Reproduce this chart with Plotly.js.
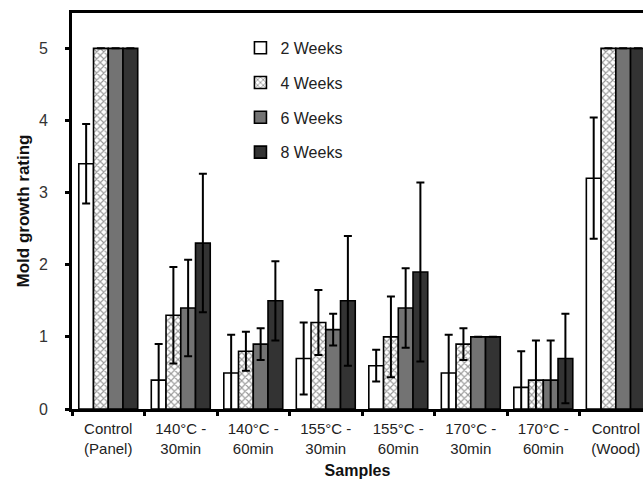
<!DOCTYPE html>
<html>
<head>
<meta charset="utf-8">
<script src="https://cdn.plot.ly/plotly-3.0.1.min.js"></script>
<style>
  html, body { margin: 0; padding: 0; background: #ffffff; }
  #chart { width: 643px; height: 484px; }
</style>
</head>
<body>
<div id="chart"></div>
<script>
const categories = ['Control<br>(Panel)', '140°C -<br>30min', '140°C -<br>60min', '155°C -<br>30min', '155°C -<br>60min', '170°C -<br>30min', '170°C -<br>60min', 'Control<br>(Wood)'];
const seriesNames = ['2 Weeks', '4 Weeks', '6 Weeks', '8 Weeks'];
const week2 = [3.4, 0.4, 0.5, 0.7, 0.6, 0.5, 0.3, 3.2];
const week2Err = [0.55, 0.5, 0.53, 0.5, 0.22, 0.53, 0.5, 0.84];
const week4 = [5, 1.3, 0.8, 1.2, 1.0, 0.9, 0.4, 5];
const week4Err = [0, 0.67, 0.27, 0.45, 0.56, 0.22, 0.55, 0];
const week6 = [5, 1.4, 0.9, 1.1, 1.4, 1.0, 0.4, 5];
const week6Err = [0, 0.67, 0.22, 0.22, 0.55, 0, 0.55, 0];
const week8 = [5, 2.3, 1.5, 1.5, 1.9, 1.0, 0.7, 5];
const week8Err = [0, 0.96, 0.55, 0.9, 1.24, 0, 0.62, 0];
const yTicks = [0, 1, 2, 3, 4, 5];

const FONT = 'Liberation Sans, Arial, sans-serif';
const values = [week2, week4, week6, week8];
const errs = [week2Err, week4Err, week6Err, week8Err];
const fills = ['#ffffff', '#ffffff', '#737373', '#333333'];
const patterns = [
  { shape: '' },
  { shape: 'x', fgcolor: '#333333', bgcolor: '#ffffff', size: 5, solidity: 0.4, fillmode: 'overlay' },
  { shape: '' },
  { shape: '' }
];

const traces = values.map((v, i) => ({
  type: 'bar',
  name: seriesNames[i],
  x: categories,
  y: v,
  legendgroup: 'g' + i,
  marker: { color: fills[i], line: { color: '#000000', width: 1.6 }, pattern: patterns[i] },
  error_y: { type: 'data', array: errs[i], visible: true, color: '#000000', thickness: 2, width: 4 }
}));

const layout = {
  width: 643,
  height: 484,
  margin: { l: 71.5, r: 0, t: 13, b: 75 },
  paper_bgcolor: '#ffffff',
  plot_bgcolor: '#ffffff',
  barmode: 'group',
  bargap: 0.187,
  bargroupgap: 0,
  showlegend: true,
  legend: {
    x: 0.295, y: 0.955, xanchor: 'left', yanchor: 'top',
    bgcolor: 'rgba(0,0,0,0)',
    font: { family: FONT, size: 16, color: '#222222' },
    traceorder: 'grouped',
    tracegroupgap: 11,
    itemwidth: 30
  },
  xaxis: {
    type: 'category',
    range: [-0.5, 7.375],
    showline: true, linecolor: '#000000', linewidth: 3, mirror: true,
    ticks: 'outside', tickson: 'boundaries', ticklen: 4, tickwidth: 3, tickcolor: '#000000',
    ticklabelstandoff: 4,
    showgrid: false, zeroline: false,
    tickfont: { family: FONT, size: 15, color: '#222222' },
    title: { text: '<b>Samples</b>', font: { family: FONT, size: 16, color: '#111111' }, standoff: 10 }
  },
  yaxis: {
    range: [0, 5.49],
    tickvals: yTicks,
    showline: true, linecolor: '#000000', linewidth: 3, mirror: false,
    ticks: 'outside', ticklen: 4, tickwidth: 3, tickcolor: '#000000',
    ticklabelstandoff: 14,
    showgrid: false, zeroline: false,
    tickfont: { family: FONT, size: 16, color: '#333333' },
    title: { text: '<b>Mold growth rating</b>', font: { family: FONT, size: 17, color: '#111111' }, standoff: 5 }
  }
};

Plotly.newPlot('chart', traces, layout, { displayModeBar: false, staticPlot: true });
</script>
</body>
</html>
